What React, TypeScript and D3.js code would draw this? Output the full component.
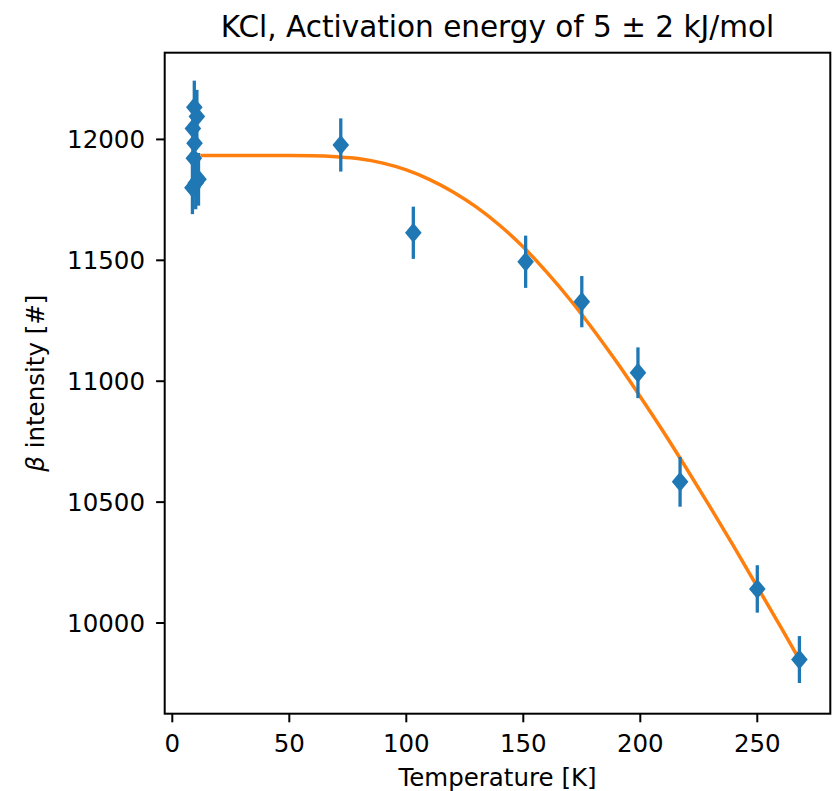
import React from "react";
import * as d3 from "d3";

const temperatures = [9.4, 10.5, 8.8, 9.5, 9.2, 11.2, 10.0, 8.6, 72, 103, 151, 175, 199, 217, 250, 268];
const intensities = [12133, 12095, 12045, 11984, 11922, 11835, 11820, 11800, 11977, 11614, 11494, 11329, 11035, 10584, 10141, 9849];
const errors = [110, 110, 110, 109, 109, 109, 109, 109, 110, 108, 108, 106, 105, 103, 98, 97];

const fitT = [12, 20, 30, 40, 50, 60, 70, 80, 90, 100, 110, 120, 130, 140, 150, 160, 170, 180, 190, 200, 210, 220, 230, 240, 250, 260, 268];
const fitI = [11933, 11933, 11933, 11933, 11933, 11932, 11928, 11920, 11902, 11874, 11834, 11783, 11720, 11644, 11555, 11451, 11337, 11212, 11078, 10936, 10789, 10635, 10477, 10316, 10150, 9984, 9849];

const xTicks = [0, 50, 100, 150, 200, 250];
const yTicks = [10000, 10500, 11000, 11500, 12000];

const TITLE = "KCl, Activation energy of 5 \u00b1 2 kJ/mol";
const X_LABEL = "Temperature [K]";

export default function App() {
  const W = 832;
  const H = 791;
  const left = 164.7, right = 830.3, top = 52.7, bottom = 713.7;
  const x = d3.scaleLinear().domain([-3.25, 281.2]).range([left, right]);
  const y = d3.scaleLinear().domain([9625, 12358.6]).range([bottom, top]);
  const line = d3.line<number>().x((_, i) => x(fitT[i])).y((d) => y(d)).curve(d3.curveMonotoneX);
  const font = "'DejaVu Sans', sans-serif";
  const blue = "#1f77b4";
  const orange = "#ff7f0e";
  const diamond = "M0,-10 L8.3,0 L0,10 L-8.3,0 Z";

  return (
    <svg width={W} height={H} style={{ position: "absolute", left: 0, top: 0, background: "#fff" }} fontFamily={font}>
      <rect x={0} y={0} width={W} height={H} fill="#fff" />
      <path d={line(fitI) || ""} fill="none" stroke={orange} strokeWidth={3.5} />
      {temperatures.map((t, i) => (
        <g key={i}>
          <line x1={x(t)} x2={x(t)} y1={y(intensities[i] - errors[i])} y2={y(intensities[i] + errors[i])} stroke={blue} strokeWidth={3.3} />
          <path d={diamond} transform={`translate(${x(t)},${y(intensities[i])})`} fill={blue} />
        </g>
      ))}
      <rect x={left} y={top} width={right - left} height={bottom - top} fill="none" stroke="#000" strokeWidth={2} />
      {xTicks.map((t) => (
        <g key={t}>
          <line x1={x(t)} x2={x(t)} y1={bottom} y2={bottom + 8.6} stroke="#000" strokeWidth={2} />
          <text x={x(t)} y={751.7} textAnchor="middle" fontSize={24.5} fill="#000">{t}</text>
        </g>
      ))}
      {yTicks.map((t) => (
        <g key={t}>
          <line x1={left - 8.6} x2={left} y1={y(t)} y2={y(t)} stroke="#000" strokeWidth={2} />
          <text x={145} y={y(t)} dy="0.36em" textAnchor="end" fontSize={24.5} fill="#000">{t}</text>
        </g>
      ))}
      <text x={(left + right) / 2} y={37} textAnchor="middle" fontSize={29.5} fill="#000">{TITLE}</text>
      <text x={(left + right) / 2} y={786} textAnchor="middle" fontSize={24.5} fill="#000">{X_LABEL}</text>
      <text transform={`translate(44,${(top + bottom) / 2}) rotate(-90)`} textAnchor="middle" fontSize={24.5} fill="#000">
        <tspan fontStyle="italic">{"\u03b2"}</tspan>
        {" intensity [#]"}
      </text>
    </svg>
  );
}
